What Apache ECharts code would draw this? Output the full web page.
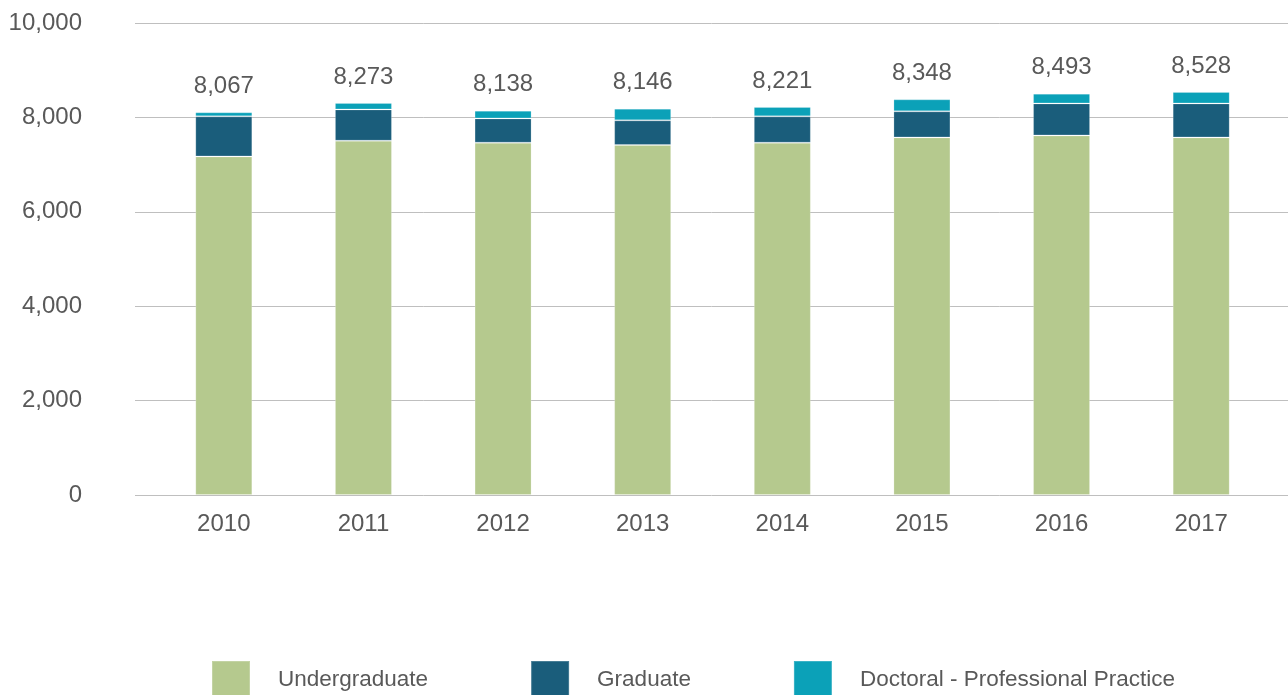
<!DOCTYPE html>
<html>
<head>
<meta charset="utf-8">
<script src="https://cdn.jsdelivr.net/npm/echarts@6/dist/echarts.min.js"></script>
<style>
html,body{margin:0;padding:0;background:#fff;}
#chart{width:1288px;height:695px;}
</style>
</head>
<body>
<div id="chart"></div>
<script>
const years = ['2010','2011','2012','2013','2014','2015','2016','2017'];
const undergraduate = [7173, 7506, 7464, 7415, 7464, 7576, 7619, 7576];
const graduate = [849, 664, 515, 522, 558, 552, 678, 721];
const doctoral = [85, 136, 163, 248, 199, 254, 206, 242];
const totals = [8067, 8273, 8138, 8146, 8221, 8348, 8493, 8528];
const yTicks = [0, 2000, 4000, 6000, 8000, 10000];

const FONT = '"Liberation Sans", Arial, sans-serif';
const TEXT = '#595959';
const chart = echarts.init(document.getElementById('chart'), null, {renderer:'canvas'});

function fmt(v){ return Number(v).toLocaleString('en-US'); }

const option = {
  animation: false,
  textStyle: { fontFamily: FONT },
  grid: [
    { left: 135, right: 0, top: 23, bottom: 200 },
    { left: 154, right: 17, top: 23, bottom: 200 }
  ],
  legend: {
    data: ['Undergraduate','Graduate','Doctoral - Professional Practice'],
    left: 206, top: 655,
    itemWidth: 38, itemHeight: 38, itemGap: 102,
    icon: 'rect',
    textStyle: { fontSize: 22.5, color: TEXT, fontFamily: FONT, padding: [0,0,0,23] },
    selectedMode: false
  },
  xAxis: [
    { gridIndex: 0, type: 'value', show: false, min: 0, max: 1 },
    { gridIndex: 1, type: 'category', data: years,
      axisLine: { show: false }, axisTick: { show: false },
      axisLabel: { fontSize: 24, color: TEXT, fontFamily: FONT, margin: 17 } }
  ],
  yAxis: [
    { gridIndex: 0, type: 'value', min: yTicks[0], max: yTicks[yTicks.length-1], interval: 2000,
      axisLine: { show: false }, axisTick: { show: false },
      axisLabel: { fontSize: 24, color: TEXT, fontFamily: FONT, margin: 53, formatter: v => fmt(v) },
      splitLine: { lineStyle: { color: '#BFBFBF', width: 1 } } },
    { gridIndex: 1, type: 'value', min: yTicks[0], max: yTicks[yTicks.length-1], interval: 2000,
      show: false, splitLine: { show: false } }
  ],
  series: [
    { name: 'Undergraduate', type: 'bar', stack: 'a', xAxisIndex: 1, yAxisIndex: 1,
      barWidth: 57, data: undergraduate,
      itemStyle: { color: '#B5C98E', borderColor: 'rgba(255,255,255,0.2)', borderWidth: 1 } },
    { name: 'Graduate', type: 'bar', stack: 'a', xAxisIndex: 1, yAxisIndex: 1,
      barWidth: 57, data: graduate,
      itemStyle: { color: '#1A5D7B', borderColor: 'rgba(255,255,255,0.2)', borderWidth: 1 } },
    { name: 'Doctoral - Professional Practice', type: 'bar', stack: 'a', xAxisIndex: 1, yAxisIndex: 1,
      barWidth: 57, data: doctoral,
      itemStyle: { color: '#0BA1B8', borderColor: 'rgba(255,255,255,0.2)', borderWidth: 1 },
      label: { show: true, position: 'top', distance: 14, fontSize: 24, color: TEXT, fontFamily: FONT,
        formatter: p => fmt(totals[p.dataIndex]) } }
  ]
};
chart.setOption(option);
</script>
</body>
</html>
